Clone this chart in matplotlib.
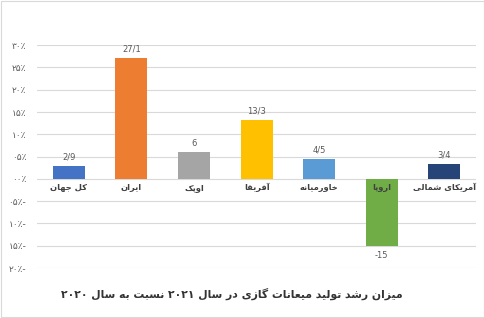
import numpy as np
import matplotlib
matplotlib.use('Agg')
import matplotlib.pyplot as plt
from matplotlib.patches import Rectangle

plt.rcParams['font.family'] = ['DejaVu Sans']

categories = ['کل جهان', 'ایران', 'اوپک', 'آفریقا', 'خاورمیانه', 'اروپا', 'آمریکای شمالی']
values = [2.9, 27.1, 6, 13.3, 4.5, -15, 3.4]
value_labels = ['2/9', '27/1', '6', '13/3', '4/5', '-15', '3/4']
colors = ['#4472C4', '#ED7D31', '#A5A5A5', '#FFC000', '#5B9BD5', '#70AD47', '#264478']
yticks = [30, 25, 20, 15, 10, 5, 0, -5, -10, -15, -20]
title = 'میزان رشد تولید میعانات گازی در سال ۲۰۲۱ نسبت به سال ۲۰۲۰'

# simple arabic shaping: (isolated, final, initial, medial)
FORMS = {
    'ا': (0xFE8D, 0xFE8E, None, None), 'آ': (0xFE81, 0xFE82, None, None),
    'ب': (0xFE8F, 0xFE90, 0xFE91, 0xFE92), 'ت': (0xFE95, 0xFE96, 0xFE97, 0xFE98),
    'ج': (0xFE9D, 0xFE9E, 0xFE9F, 0xFEA0), 'خ': (0xFEA5, 0xFEA6, 0xFEA7, 0xFEA8),
    'د': (0xFEA9, 0xFEAA, None, None), 'ر': (0xFEAD, 0xFEAE, None, None),
    'ز': (0xFEAF, 0xFEB0, None, None), 'س': (0xFEB1, 0xFEB2, 0xFEB3, 0xFEB4),
    'ش': (0xFEB5, 0xFEB6, 0xFEB7, 0xFEB8), 'ع': (0xFEC9, 0xFECA, 0xFECB, 0xFECC),
    'ف': (0xFED1, 0xFED2, 0xFED3, 0xFED4), 'ق': (0xFED5, 0xFED6, 0xFED7, 0xFED8),
    'ل': (0xFEDD, 0xFEDE, 0xFEDF, 0xFEE0), 'م': (0xFEE1, 0xFEE2, 0xFEE3, 0xFEE4),
    'ن': (0xFEE5, 0xFEE6, 0xFEE7, 0xFEE8), 'ه': (0xFEE9, 0xFEEA, 0xFEEB, 0xFEEC),
    'و': (0xFEED, 0xFEEE, None, None), 'ی': (0xFBFC, 0xFBFD, 0xFBFE, 0xFBFF),
    'ک': (0xFB8E, 0xFB8F, 0xFB90, 0xFB91), 'گ': (0xFB92, 0xFB93, 0xFB94, 0xFB95),
    'پ': (0xFB56, 0xFB57, 0xFB58, 0xFB59),
}


def shape_word(w):
    out = []
    for i, ch in enumerate(w):
        if ch not in FORMS:
            out.append(ch)
            continue
        f = FORMS[ch]
        prev = w[i - 1] if i > 0 else None
        nxt = w[i + 1] if i + 1 < len(w) else None
        join_prev = prev in FORMS and FORMS[prev][2] is not None
        join_next = nxt in FORMS and f[2] is not None
        if join_prev and join_next:
            code = f[3]
        elif join_prev:
            code = f[1]
        elif join_next:
            code = f[2]
        else:
            code = f[0]
        out.append(chr(code))
    return out


def rtl(text):
    words = []
    for w in text.split(' '):
        if any(c in FORMS for c in w):
            words.append(''.join(reversed(shape_word(w))))
        else:
            words.append(w)
    return ' '.join(reversed(words))


def fa_digits(s):
    return s.translate(str.maketrans('0123456789', '۰۱۲۳۴۵۶۷۸۹'))


def tick_label(v):
    s = fa_digits('%02d' % abs(v)) + '٪'
    return s + '-' if v < 0 else s


fig = plt.figure(figsize=(4.85, 3.18), dpi=100)
ax = fig.add_axes([0.077, 0.157, 0.904, 0.701])

x = np.arange(len(categories))
ax.bar(x, values, width=0.51, color=colors, zorder=3)

for xi, v, lab in zip(x, values, value_labels):
    if v >= 0:
        ax.text(xi, v + 1.0, lab, ha='center', va='bottom', fontsize=6, color='#595959')
    else:
        ax.text(xi, v - 1.2, lab, ha='center', va='top', fontsize=6, color='#595959')
    ax.text(xi, -2.0, rtl(categories[xi]), ha='center', va='center', fontsize=6,
            fontweight='bold', color='#404040', zorder=4)

ax.set_xlim(-0.5, len(categories) - 0.5)
ax.set_ylim(-20, 30)
ax.set_yticks(yticks)
ax.set_yticklabels([tick_label(v) for v in yticks], fontsize=6.5, color='#595959')
ax.set_xticks([])
ax.tick_params(axis='y', length=0, pad=8)
ax.grid(axis='y', color='#D9D9D9', linewidth=0.8, zorder=0)
for s in ax.spines.values():
    s.set_visible(False)

fig.text(0.478, 0.077, rtl(title), ha='center', va='center', fontsize=7.8,
         fontweight='bold', color='#333333', family=['DejaVu Sans Condensed', 'DejaVu Sans'])

fig.patches.append(Rectangle((0.002, 0.003), 0.995, 0.994, transform=fig.transFigure,
                             fill=False, edgecolor='#D9D9D9', linewidth=0.8))

fig.savefig('out.png', dpi=100)
